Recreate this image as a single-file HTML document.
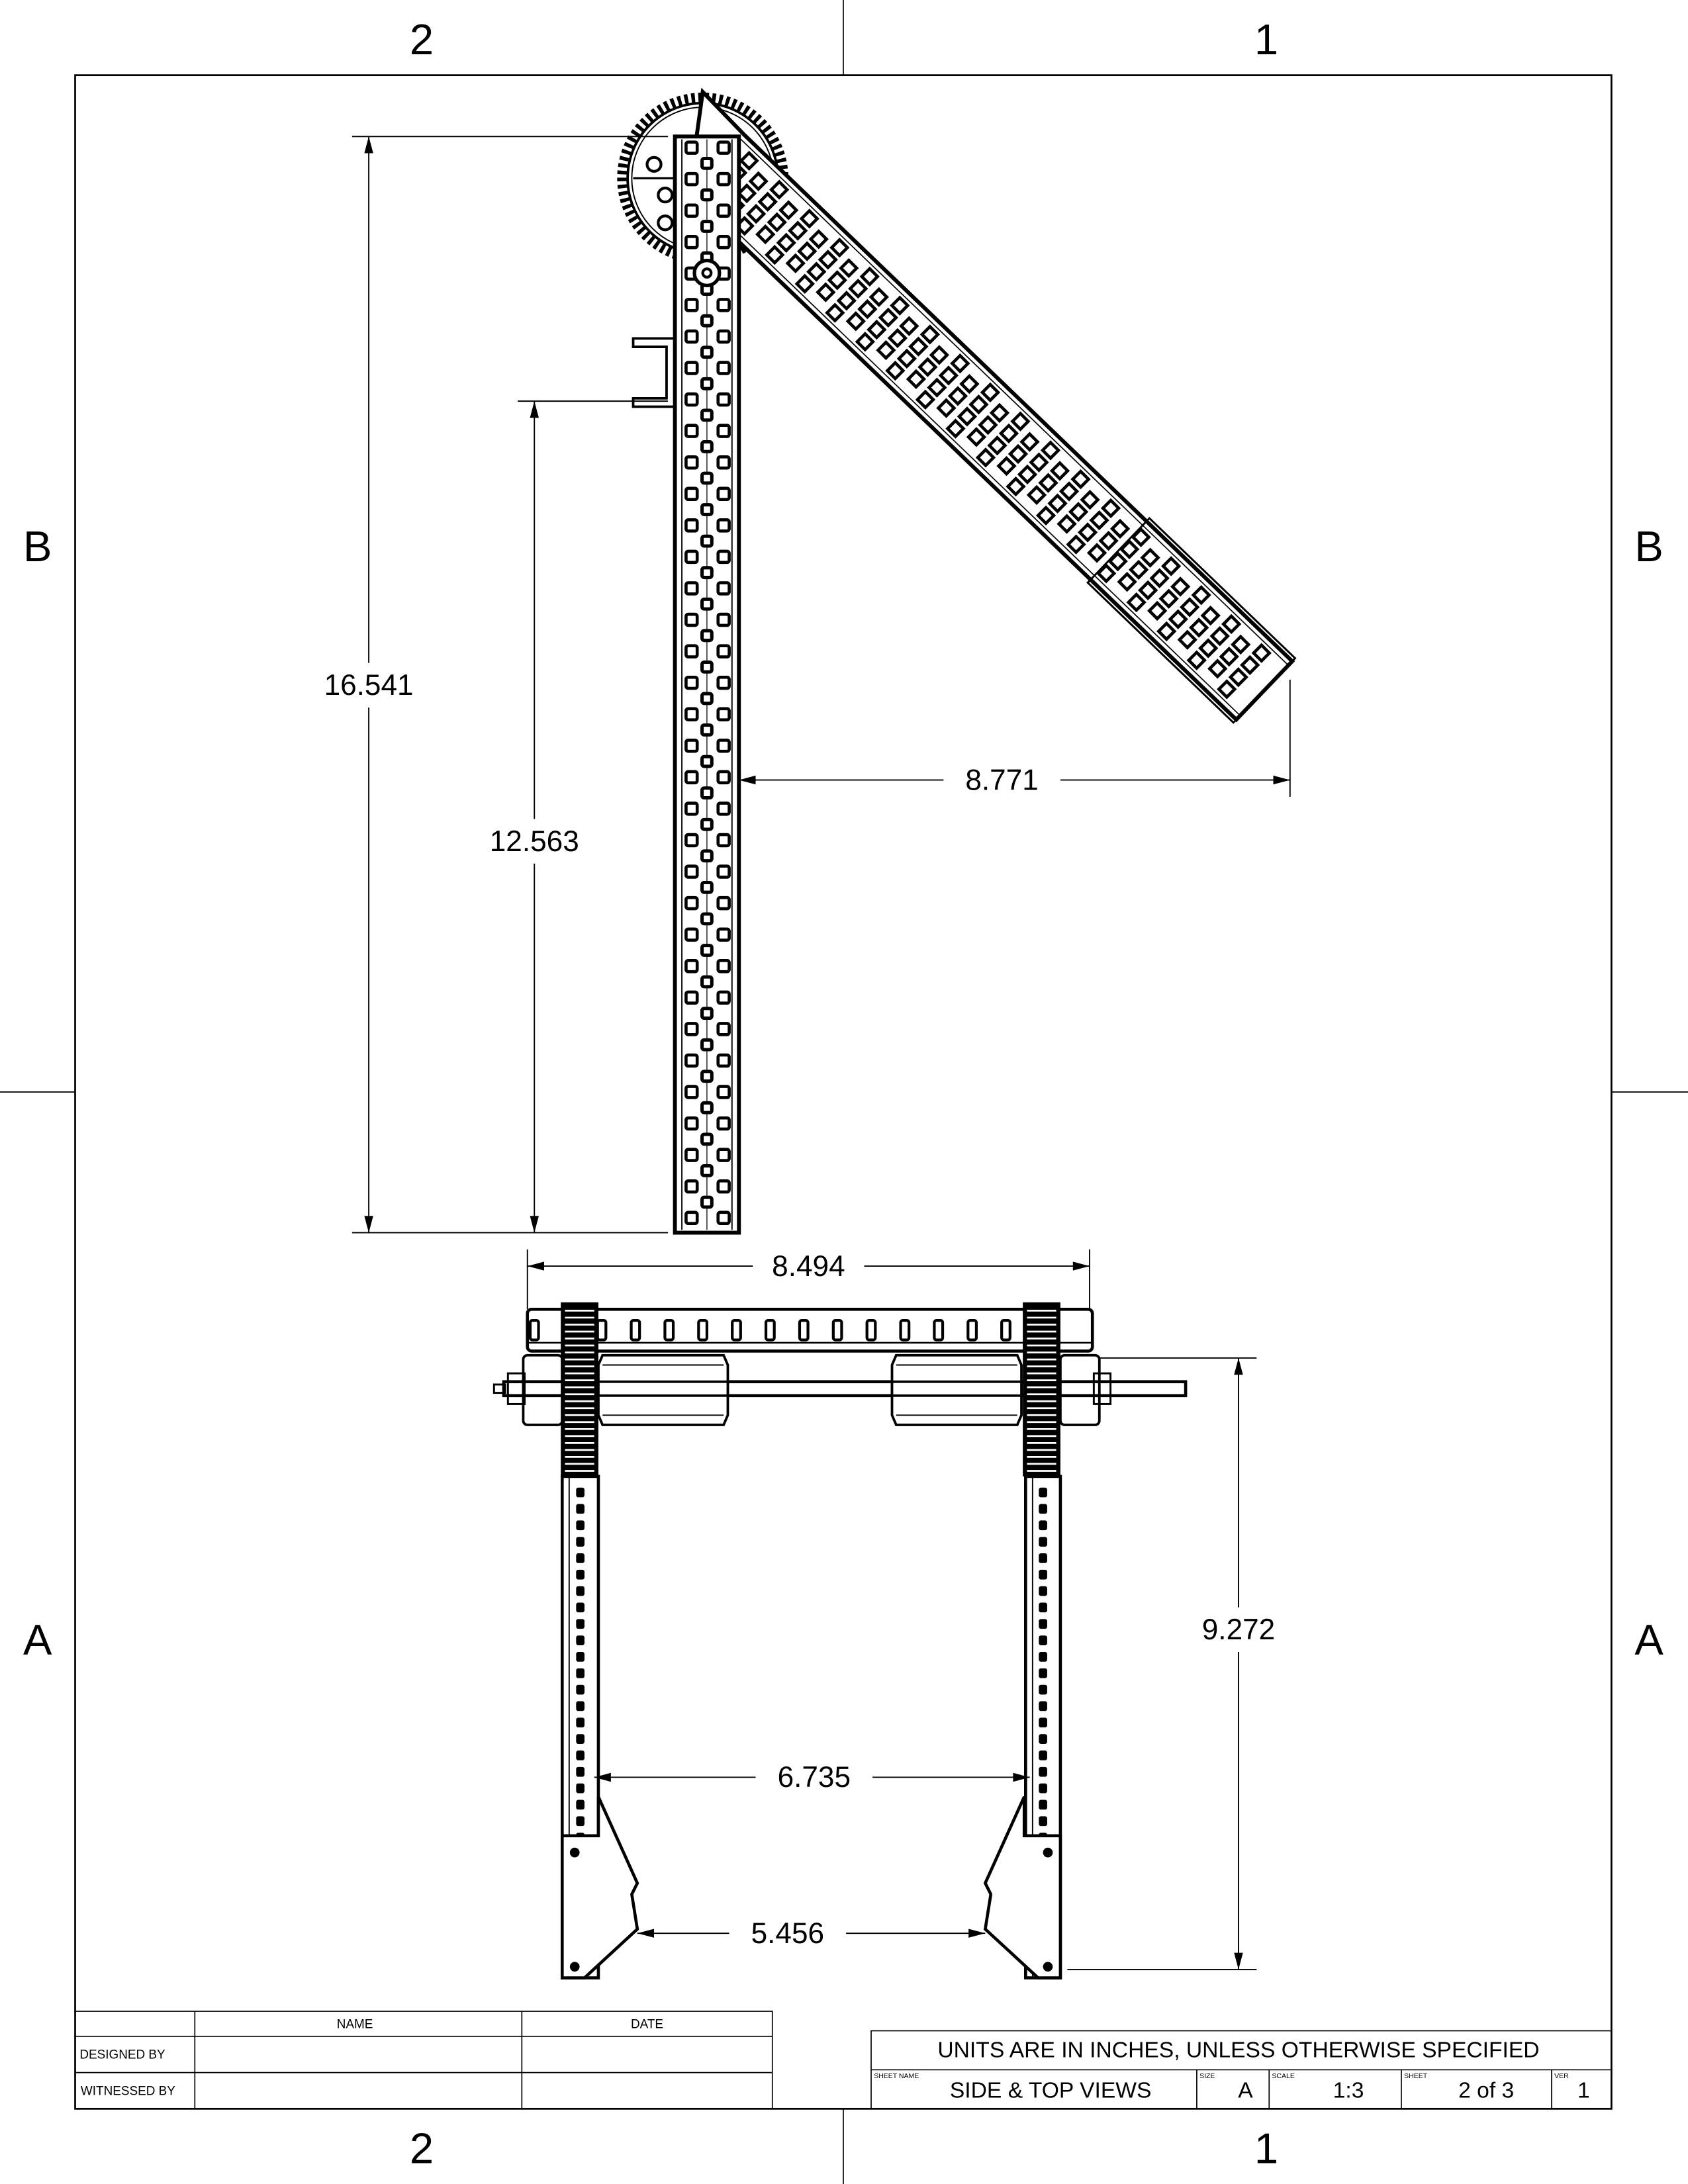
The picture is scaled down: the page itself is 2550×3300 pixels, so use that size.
<!DOCTYPE html>
<html><head><meta charset="utf-8"><style>
html,body{margin:0;padding:0;background:#fff}
svg{display:block}
text{font-family:"Liberation Sans",sans-serif;fill:#000}
</style></head><body>
<svg id="s" width="2550" height="3300" viewBox="0 0 1213 1568" preserveAspectRatio="none" xmlns="http://www.w3.org/2000/svg">
<rect x="0" y="0" width="1213" height="1568" fill="#fff"/>
<g stroke="#000" fill="none">
<rect x="54" y="54" width="1104" height="1460" stroke-width="1.3"/>
<line x1="606" y1="0" x2="606" y2="54" stroke-width="0.8"/>
<line x1="606" y1="1514" x2="606" y2="1568" stroke-width="0.8"/>
<line x1="0" y1="784" x2="54" y2="784" stroke-width="0.8"/>
<line x1="1158" y1="784" x2="1213" y2="784" stroke-width="0.8"/>
</g>
<g font-size="31" text-anchor="middle">
<text x="303" y="39">2</text><text x="910" y="39">1</text>
<text x="303" y="1553">2</text><text x="910" y="1553">1</text>
<text x="27" y="403">B</text><text x="1185" y="403">B</text>
<text x="27" y="1188">A</text><text x="1185" y="1188">A</text>
</g>
<g id="side" stroke="#000" fill="none"></g>
<g id="top" stroke="#000" fill="none"></g>
<g id="dims"></g>
<g stroke="#000" stroke-width="0.8" fill="none">
<rect x="54" y="1444" width="501" height="70"/>
<line x1="54" y1="1462" x2="555" y2="1462"/><line x1="54" y1="1488" x2="555" y2="1488"/>
<line x1="140" y1="1444" x2="140" y2="1514"/><line x1="375" y1="1444" x2="375" y2="1514"/>
</g>
<g font-size="9" text-anchor="middle">
<text x="255" y="1456">NAME</text><text x="465" y="1456">DATE</text>
<text x="88" y="1478">DESIGNED BY</text><text x="92" y="1504">WITNESSED BY</text>
</g>
<g stroke="#000" stroke-width="0.8" fill="none">
<rect x="626" y="1458" width="532" height="56"/>
<line x1="626" y1="1486" x2="1158" y2="1486"/>
<line x1="860" y1="1486" x2="860" y2="1514"/><line x1="912" y1="1486" x2="912" y2="1514"/>
<line x1="1007" y1="1486" x2="1007" y2="1514"/><line x1="1115" y1="1486" x2="1115" y2="1514"/>
</g>
<g font-size="16" text-anchor="middle">
<text x="890" y="1477">UNITS ARE IN INCHES, UNLESS OTHERWISE SPECIFIED</text>
<text x="755" y="1506">SIDE &amp; TOP VIEWS</text><text x="895" y="1506">A</text>
<text x="969" y="1506">1:3</text><text x="1068" y="1506">2 of 3</text><text x="1138" y="1506">1</text>
</g>
<g font-size="5" text-anchor="start">
<text x="628" y="1492">SHEET NAME</text><text x="862" y="1492">SIZE</text><text x="914" y="1492">SCALE</text><text x="1009" y="1492">SHEET</text><text x="1117" y="1492">VER</text>
</g>
</svg>
<script>
var NS="http://www.w3.org/2000/svg";
function mk(parent,tag,attrs){var e=document.createElementNS(NS,tag);for(var k in attrs)e.setAttribute(k,attrs[k]);parent.appendChild(e);return e;}
var side=document.getElementById('side'),top_=document.getElementById('top'),dims=document.getElementById('dims');

var dimLabels=["16.541","12.563","8.771","8.494","9.272","6.735","5.456"];

// ---------- side view ----------
mk(side,'circle',{cx:505,cy:128,r:58,'stroke-width':7,'stroke-dasharray':'2.6 2.4'});
mk(side,'circle',{cx:505,cy:128,r:54,'stroke-width':1.8});
mk(side,'circle',{cx:505,cy:128,r:51,'stroke-width':0.9});
[[470,118],[478,140],[478,160]].forEach(function(p){mk(side,'circle',{cx:p[0],cy:p[1],r:5,'stroke-width':2});});
mk(side,'line',{x1:455,y1:128,x2:485,y2:128,'stroke-width':1.5});
var ux=0.722,uy=0.693,nx=0.693,ny=-0.722;
var sx=515,sy=118,L=545,W=29;
var arm=mk(side,'polygon',{points:[[505,66],[sx+nx*W,sy+ny*W],[sx+nx*W+ux*L,sy+ny*W+uy*L],[sx-nx*W+ux*L,sy-ny*W+uy*L],[sx-nx*W,sy-ny*W]].map(function(p){return p.join(',')}).join(' '),'stroke-width':2.8,fill:'#fff'});


mk(side,'line',{x1:sx-nx*(W-4),y1:sy-ny*(W-4),x2:sx-nx*(W-4)+ux*L,y2:sy-ny*(W-4)+uy*L,'stroke-width':0.8});
mk(side,'line',{x1:sx+nx*(W-4),y1:sy+ny*(W-4),x2:sx+nx*(W-4)+ux*L,y2:sy+ny*(W-4)+uy*L,'stroke-width':0.8});
var s0=400;
mk(side,'polygon',{points:[[sx+nx*(W+3)+ux*s0,sy+ny*(W+3)+uy*s0],[sx+nx*(W+3)+ux*L,sy+ny*(W+3)+uy*L],[sx-nx*(W+3)+ux*L,sy-ny*(W+3)+uy*L],[sx-nx*(W+3)+ux*s0,sy-ny*(W+3)+uy*s0]].map(function(p){return p.join(',')}).join(' '),'stroke-width':1.4});
for(var i=0;i<35;i++){
  var t=15+i*15;
  var offs=(i%2==0)?[-18,-6,6,18]:[-12,0,12];
  offs.forEach(function(o){
    var cx=sx+ux*t+nx*o,cy=sy+uy*t+ny*o;
    mk(side,'rect',{x:cx-4,y:cy-4,width:8,height:8,transform:'rotate(45 '+cx+' '+cy+')','stroke-width':2.2,fill:'#fff'});
  });
}
var bar=mk(side,'rect',{x:485,y:98,width:46,height:787,'stroke-width':2.8,fill:'#fff'});


mk(side,'line',{x1:490,y1:100,x2:490,y2:883,'stroke-width':0.9});
mk(side,'line',{x1:526,y1:100,x2:526,y2:883,'stroke-width':0.9});
mk(side,'line',{x1:508,y1:100,x2:508,y2:883,'stroke-width':0.6});
for(var r=0;r<69;r++){
  var y=106+r*11.3;
  if(r%2==0){[497,520].forEach(function(x){mk(side,'rect',{x:x-4,y:y-4,width:8,height:8,rx:1.5,'stroke-width':2.2,fill:'#fff'});});}
  else mk(side,'rect',{x:504.5,y:y-3.5,width:7,height:7,rx:1.5,'stroke-width':2.4,fill:'#fff'});
}
mk(side,'circle',{cx:508,cy:196,r:9,'stroke-width':2.5,fill:'#fff'});
mk(side,'circle',{cx:508,cy:196,r:3,'stroke-width':2});
mk(side,'path',{d:'M485 243 H455 V249 H479 V286 H455 V292 H485','stroke-width':1.8});

// ---------- top view ----------
var ch=mk(top_,'rect',{x:379,y:940,width:406,height:30,rx:3,'stroke-width':2.2,fill:'#fff'});


mk(top_,'line',{x1:379,y1:964,x2:785,y2:964,'stroke-width':1.2});
for(var k=0;k<16;k++){var hx=384+k*24.2;mk(top_,'rect',{x:hx-3,y:948,width:6,height:14,rx:1.5,'stroke-width':2});}
var sh=mk(top_,'rect',{x:362,y:992,width:490,height:10,'stroke-width':2.2,fill:'#fff'});


mk(top_,'rect',{x:355,y:994,width:8,height:6,'stroke-width':1.4});
mk(top_,'rect',{x:365,y:986,width:12,height:22,'stroke-width':1.4});
mk(top_,'rect',{x:786,y:986,width:12,height:22,'stroke-width':1.4});
[[376,973],[762,973]].forEach(function(p){mk(top_,'rect',{x:p[0],y:p[1],width:28,height:50,rx:3,'stroke-width':1.8});});
[430,641].forEach(function(x){
  mk(top_,'polygon',{points:(x+3)+',973 '+(x+90)+',973 '+(x+93)+',980 '+(x+93)+',1016 '+(x+90)+',1023 '+(x+3)+',1023 '+x+',1016 '+x+',980','stroke-width':1.8,fill:'#fff'});
  mk(top_,'line',{x1:x+3,y1:980,x2:x+90,y2:980,'stroke-width':0.9});
  mk(top_,'line',{x1:x+3,y1:1016,x2:x+90,y2:1016,'stroke-width':0.9});
  mk(top_,'rect',{x:x,y:992,width:93,height:10,'stroke-width':1.8,fill:'#fff'});
});
[[404,430],[737,762]].forEach(function(l,idx){
  mk(top_,'rect',{x:l[0],y:1060,width:l[1]-l[0],height:360,'stroke-width':2.2});
  mk(top_,'line',{x1:l[0]+5,y1:1060,x2:l[0]+5,y2:1420,'stroke-width':0.9});
  for(var j=0;j<22;j++){mk(top_,'rect',{x:(l[0]+l[1])/2-3,y:1068+j*11.8,width:6,height:7,rx:1.5,fill:'#000','stroke-width':0});}
  var m=idx==0?1:-1, bx=idx==0?404:762;
  var foot=mk(top_,'path',{d:'M'+bx+' 1318 L'+(bx+m*26)+' 1318 L'+(bx+m*26)+' 1290 L'+(bx+m*54)+' 1352 L'+(bx+m*50)+' 1360 L'+(bx+m*54)+' 1385 L'+(bx+m*16)+' 1420 L'+bx+' 1420 Z','stroke-width':2.2,fill:'#fff'});
  
  
  mk(top_,'circle',{cx:bx+m*9,cy:1330,r:3,fill:'#000'});
  mk(top_,'circle',{cx:bx+m*9,cy:1412,r:3,fill:'#000'});
});
[[403,430],[735,762]].forEach(function(g){
  mk(top_,'rect',{x:g[0],y:935,width:g[1]-g[0],height:125,fill:'#000','stroke-width':0});
  for(var q=0;q<24;q++){mk(top_,'line',{x1:g[0]+3,y1:941+q*5,x2:g[1]-3,y2:941+q*5,stroke:'#fff','stroke-width':1.3});}
});

// ---------- dimensions ----------
function arrow(x,y,dir){
  var a=12,b=3.2,p;
  if(dir=='u')p=[[x,y],[x-b,y+a],[x+b,y+a]];
  if(dir=='d')p=[[x,y],[x-b,y-a],[x+b,y-a]];
  if(dir=='l')p=[[x,y],[x+a,y-b],[x+a,y+b]];
  if(dir=='r')p=[[x,y],[x-a,y-b],[x-a,y+b]];
  mk(dims,'polygon',{points:p.map(function(q){return q.join(',')}).join(' '),fill:'#000'});
}
function ln(x1,y1,x2,y2){mk(dims,'line',{x1:x1,y1:y1,x2:x2,y2:y2,stroke:'#000','stroke-width':0.9});}
function label(x,y,s){var t=mk(dims,'text',{x:x,y:y+7,'font-size':21,'text-anchor':'middle'});t.textContent=s;return t;}
function vdim(x,y1,y2,ty,s){ln(x,y1,x,ty-16);ln(x,ty+16,x,y2);arrow(x,y1,'u');arrow(x,y2,'d');label(x,ty,s);}
function hdim(y,x1,x2,tx,s,w){ln(x1,y,tx-w,y);ln(tx+w,y,x2,y);arrow(x1,y,'l');arrow(x2,y,'r');label(tx,y,s);}
ln(253,98,480,98);ln(253,885,480,885);
ln(372,288,480,288);
ln(927,488,927,572);
ln(379,897,379,940);ln(783,897,783,940);
ln(790,975,903,975);ln(767,1414,903,1414);
vdim(265,98,885,492,dimLabels[0]);
vdim(384,288,885,604,dimLabels[1]);
hdim(560,531,927,720,dimLabels[2],42);
hdim(909,379,783,581,dimLabels[3],40);
vdim(890,975,1414,1170,dimLabels[4]);
hdim(1276,427,740,585,dimLabels[5],42);
hdim(1388,458,708,566,dimLabels[6],42);
</script>
</body></html>
